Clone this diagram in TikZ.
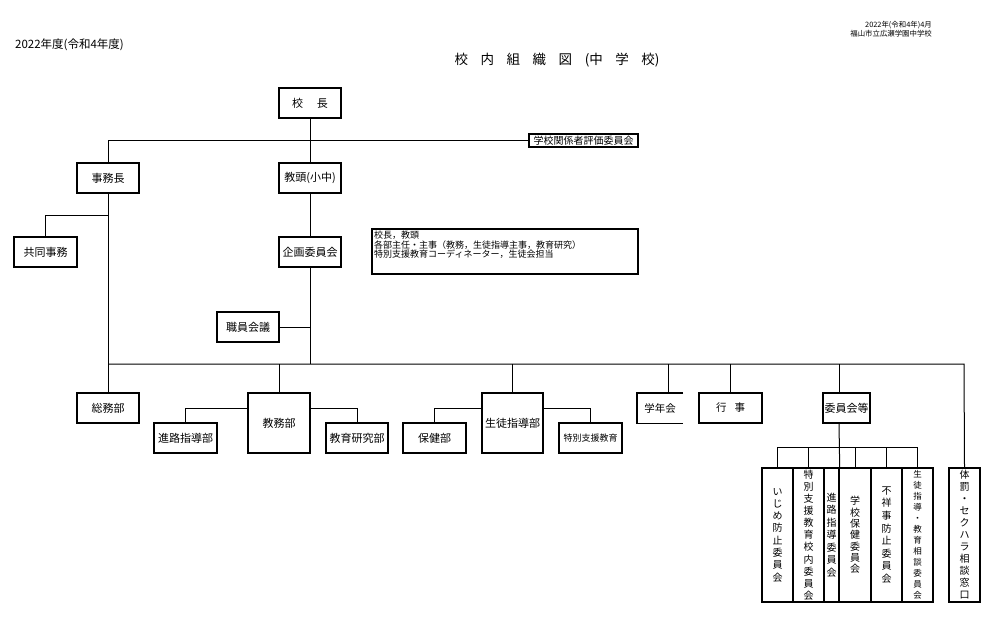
\documentclass[tikz,border=0pt]{standalone}
\usepackage{fontspec}
\setmainfont{Noto Sans CJK JP}
\begin{document}
\begin{tikzpicture}[x=1pt,y=-1pt,
  box/.style={draw, line width=1.4pt, inner sep=0pt, minimum width=62pt, minimum height=30pt, font=\fontsize{11}{13}\selectfont, align=center},
  ln/.style={line width=1pt},
  vbox/.style={draw, line width=1.4pt, inner sep=0pt, minimum height=134pt, minimum width=31pt, align=center},
  vt/.style={font=\fontsize{10}{#1}\selectfont},
]
\fill[white] (0,0) rectangle (1000,622);
\useasboundingbox (0,0) rectangle (1000,622);

% headers
\node[anchor=west, inner sep=0pt, font=\fontsize{11.5}{13}\selectfont] (yr) at (15,45) {2022年度(令和4年度)};
\node[inner sep=0pt, font=\fontsize{13.5}{15}\selectfont] (title) at (557,60) {\makebox[205pt][s]{校 内 組 織 図 (中 学 校)}};
\node[anchor=east, align=right, inner sep=0pt, font=\fontsize{7.4}{9}\selectfont] (date) at (932,29.5) {2022年(令和4年)4月\\福山市立広瀬学園中学校};

% top levels
\node[box] (kocho) at (310,103) {校\hspace{14pt}長};
\node[box, minimum width=109pt, minimum height=13pt, font=\fontsize{10}{12}\selectfont] (hyoka) at (583.5,140.5) {学校関係者評価委員会};
\node[box] (jimu) at (108,178) {事務長};
\node[box] (kyoto) at (310,178) {教頭(小中)};
\node[box, minimum width=63pt] (kyodo) at (45.5,252) {共同事務};
\node[box] (kikaku) at (310,252) {企画委員会};
\node[box] (shokuin) at (248,327) {職員会議};
\node[draw, line width=1.4pt, minimum width=266pt, minimum height=45pt, inner sep=0pt] (note) at (505,251.5) {};
\node[anchor=north west, align=left, inner sep=0pt, font=\fontsize{9}{9.8}\selectfont] (notetext) at (374,230.5) {校長，教頭\\各部主任・主事（教務，生徒指導主事，教育研究）\\特別支援教育コーディネーター，生徒会担当};

\coordinate (busL) at (108,364);
\coordinate (busR) at (964,364);
\coordinate (jk) at (108,215);
\coordinate (cbar) at (839,447);

% second row
\node[box] (somu) at (108,408) {総務部};
\node[box, minimum height=60pt] (kyomu) at (279,423) {教務部};
\node[box, minimum width=63pt] (shinro) at (185.5,438) {進路指導部};
\node[box] (kenkyu) at (357,438) {教育研究部};
\node[box, minimum width=61pt, minimum height=60pt] (seito) at (512.5,423) {生徒指導部};
\node[box, minimum width=63pt] (hoken) at (434.5,438) {保健部};
\node[box, minimum width=63pt, font=\fontsize{9}{11}\selectfont] (tokub) at (590.5,438) {特別支援教育};
\node[minimum width=46pt, minimum height=30pt, inner sep=0pt, font=\fontsize{10.5}{12}\selectfont] (gakunen) at (660,408) {学年会};
\draw[line width=1.4pt] (gakunen.north east) -- (gakunen.north west) -- (gakunen.south west) -- (gakunen.south east);
\node[box, minimum width=63pt, font=\fontsize{10.5}{12}\selectfont] (gyoji) at (730.5,408) {行\hspace{8pt}事};
\node[box, minimum width=47pt] (iinkai) at (846.5,408) {委員会等};

% committees
\node[vbox, vt=12.3] (c1) at (777.5,535) {い\\じ\\め\\防\\止\\委\\員\\会};
\node[vbox, vt=12.1] (c2) at (808.5,535) {特\\別\\支\\援\\教\\育\\校\\内\\委\\員\\会};
\node[vbox, vt=12.5, minimum width=15pt] (c3) at (831.5,535) {進\\路\\指\\導\\委\\員\\会};
\node[vbox, vt=11.3, minimum width=32pt] (c4) at (855,535) {学\\校\\保\\健\\委\\員\\会};
\node[vbox, vt=12.6] (c5) at (886.5,535) {不\\祥\\事\\防\\止\\委\\員\\会};
\node[vbox, font=\fontsize{8.5}{11}\selectfont] (c6) at (917.5,535) {生\\徒\\指\\導\\・\\教\\育\\相\\談\\委\\員\\会};
\node[vbox, vt=12] (c7) at (964.5,535) {体\\罰\\・\\セ\\ク\\ハ\\ラ\\相\\談\\窓\\口};

% connectors
\draw[ln] (kocho.south) -- (kyoto.north);
\draw[ln] (jimu.north) |- (hyoka.west);
\draw[ln] (jimu.south) -- (somu.north);
\draw[ln] (jk) -| (kyodo.north);
\draw[ln] (kyoto.south) -- (kikaku.north);
\draw[ln] (kikaku.south) -- (kikaku.south |- busL);
\draw[ln] (shokuin.east) -- (shokuin.east -| kikaku.south);
\draw[ln] (busL) -- (busR) -- (c7.north);
\draw[ln] (kyomu.north) -- (kyomu.north |- busL);
\draw[ln] (shinro.north) |- ([yshift=15pt]kyomu.west);
\draw[ln] (kenkyu.north) |- ([yshift=15pt]kyomu.east);
\draw[ln] (seito.north) -- (seito.north |- busL);
\draw[ln] (hoken.north) |- ([yshift=15pt]seito.west);
\draw[ln] (tokub.north) |- ([yshift=15pt]seito.east);
\draw[ln] ([xshift=8pt]gakunen.north) -- ([xshift=8pt]gakunen.north |- busL);
\draw[ln] (gyoji.north) -- (gyoji.north |- busL);
\draw[ln] ([xshift=-7.5pt]iinkai.north) -- ([xshift=-7.5pt]iinkai.north |- busL);
\draw[ln] ([xshift=-7.5pt]iinkai.south) -- (c3.north east);
\draw[ln] (c1.north) |- (cbar) -| (c6.north);
\draw[ln] (c2.north) -- (c2.north |- cbar);
\draw[ln] (c4.north) -- (c4.north |- cbar);
\draw[ln] (c5.north) -- (c5.north |- cbar);
\end{tikzpicture}
\end{document}
